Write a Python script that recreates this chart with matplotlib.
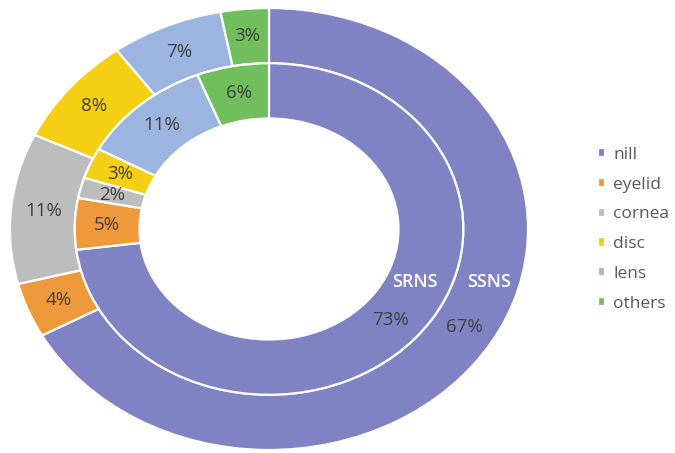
import numpy as np
import matplotlib.pyplot as plt

categories = ["nill", "eyelid", "cornea", "disc", "lens", "others"]
ssns = [67, 4, 11, 8, 7, 3]   # outer ring
srns = [73, 5, 2, 3, 11, 6]   # inner ring
colors = ["#7F82C3", "#EE9A3C", "#BDBDBD", "#F4CF13", "#9CB4E0", "#71BE5C"]

plt.rcParams['font.family'] = ['Open Sans', 'DejaVu Sans']

fig = plt.figure(figsize=(6.75, 4.53), dpi=100)
ax = fig.add_axes([10 / 675, 3 / 453, 518 / 675, 442 / 453])

fmt = lambda p: f"{p:.0f}%"
wedges, texts, autotexts = ax.pie(
    ssns, colors=colors, startangle=90, counterclock=False, radius=1.0,
    autopct=fmt, pctdistance=0.875,
    wedgeprops=dict(width=0.25, edgecolor="white", linewidth=1.6),
    textprops=dict(color="#404040", fontsize=13.5))
w2, t2, a2 = ax.pie(
    srns, colors=colors, startangle=90, counterclock=False, radius=0.75,
    autopct=fmt, pctdistance=0.833,
    wedgeprops=dict(width=0.25, edgecolor="white", linewidth=1.6),
    textprops=dict(color="#404040", fontsize=13.5))

ax.set_aspect('auto')
ax.set_xlim(-1.0, 1.0)
ax.set_ylim(-1.0, 1.0)

ax.text(0.85, -0.24, "SSNS", color="white", fontsize=13, fontweight="semibold",
        ha="center", va="center")
ax.text(0.565, -0.24, "SRNS", color="white", fontsize=13, fontweight="semibold",
        ha="center", va="center")

fig.legend(wedges, categories, loc="center left", bbox_to_anchor=(582 / 675, 0.494),
           frameon=False, handlelength=0.45, handleheight=0.45, handletextpad=0.45,
           labelspacing=0.79, fontsize=12.5, labelcolor="#595959")

fig.savefig("out.png", dpi=100)
